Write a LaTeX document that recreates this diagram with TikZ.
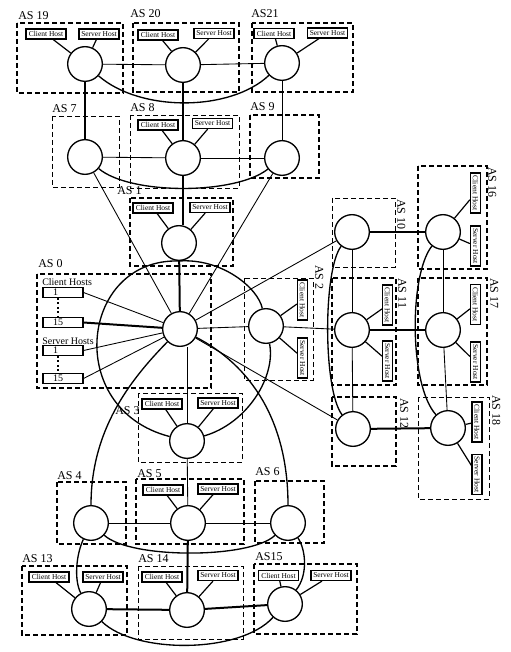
\documentclass[tikz,border=0pt]{standalone}
\usepackage{fontspec}
\setmainfont{Liberation Serif}
\usepackage{tikz}

\tikzset{
  asnode/.style={circle,draw,line width=1pt,fill=white,minimum size=26pt,inner sep=0pt},
  hostbox/.style={draw,line width=0.9pt,fill=white,inner sep=0.4pt,minimum width=30pt,minimum height=7.5pt,font=\fontsize{5.6}{6}\selectfont},
  numbox/.style={draw,line width=0.8pt,fill=white,inner sep=0pt,text width=30pt,align=left,minimum height=7pt,font=\fontsize{7.5}{8}\selectfont},
  aslabel/.style={inner sep=0pt,font=\fontsize{9}{10}\selectfont},
  grplabel/.style={inner sep=0pt,font=\fontsize{7.5}{8}\selectfont},
  thinbox/.style={dash pattern=on 3.5pt off 2.5pt,line width=0.7pt},
  thickbox/.style={dash pattern=on 3.8pt off 2.2pt,line width=1.3pt},
  link/.style={line width=0.65pt},
  hostlink/.style={line width=0.9pt},
  bow/.style={line width=1pt},
  trunk/.style={line width=1.5pt},
}

\begin{document}
\begin{tikzpicture}[x=0.75pt,y=0.75pt,yscale=-1,xscale=1]
\useasboundingbox (0,0) rectangle (510,652);

%Shape: AS boxes
\draw [thickbox] (17,23) rectangle (123,93);
\draw [thickbox] (133,23) rectangle (239,92);
\draw [thickbox] (252,23) rectangle (353,92);
\draw [thinbox] (52,116) rectangle (119,187);
\draw [thinbox] (130,115) rectangle (239,188);
\draw [thickbox] (250,115) rectangle (319,178);
\draw [thickbox] (130,198) rectangle (233,266);
\draw [thickbox] (37,274) rectangle (211,388);
\draw [thinbox] (244,278) rectangle (313,380);
\draw [thinbox] (332,198) rectangle (395,267);
\draw [thickbox] (332,278) rectangle (396,385);
\draw [thickbox] (332,397) rectangle (396,466);
\draw [thickbox] (418,166) rectangle (487,269);
\draw [thickbox] (418,278) rectangle (487,385);
\draw [thinbox] (418,397) rectangle (489,499);
\draw [thinbox] (138,393) rectangle (242,462);
\draw [thickbox] (57,482) rectangle (126,544);
\draw [thickbox] (136,479) rectangle (244,544);
\draw [thickbox] (255,481) rectangle (324,543);
\draw [thickbox] (22,566) rectangle (127,635);
\draw [thinbox] (138,566) rectangle (243,639);
\draw [thickbox] (254,564) rectangle (357,634);

%Shape: AS routers
\node [asnode] (as19) at (85,64) {};
\node [asnode] (as20) at (183,65) {};
\node [asnode] (as21) at (282,63) {};
\node [asnode] (as7) at (85,157) {};
\node [asnode] (as8) at (183,158) {};
\node [asnode] (as9) at (282,158) {};
\node [asnode] (as1) at (179,243) {};
\node [asnode] (as0) at (180,329) {};
\node [asnode] (as2) at (266,326) {};
\node [asnode] (as10) at (352,232) {};
\node [asnode] (as11) at (352,330) {};
\node [asnode] (as12) at (353,429) {};
\node [asnode] (as16) at (443,232) {};
\node [asnode] (as17) at (443,330) {};
\node [asnode] (as18) at (448,428) {};
\node [asnode] (as3) at (187,441) {};
\node [asnode] (as4) at (91,523) {};
\node [asnode] (as5) at (188,523) {};
\node [asnode] (as6) at (288,523) {};
\node [asnode] (as13) at (89,609) {};
\node [asnode] (as14) at (187,610) {};
\node [asnode] (as15) at (285,604) {};

% Text Node: hosts
\node [hostbox] (ch19) at (46,34) {Client Host};
\node [hostbox] (sh19) at (99,34) {Server Host};
\node [hostbox] (ch20) at (158,35) {Client Host};
\node [hostbox] (sh20) at (214,33.5) {Server Host};
\node [hostbox] (ch21) at (274,33.5) {Client Host};
\node [hostbox] (sh21) at (327.5,33) {Server Host};
\node [hostbox] (ch8) at (158,125) {Client Host};
\node [hostbox] (sh8) at (212.5,123.5) {Server Host};
\node [hostbox] (ch1) at (153,208) {Client Host};
\node [hostbox] (sh1) at (210,207.5) {Server Host};
\node [hostbox] (ch3) at (162,404) {Client Host};
\node [hostbox] (sh3) at (218,403) {Server Host};
\node [hostbox] (ch5) at (163,490) {Client Host};
\node [hostbox] (sh5) at (218,489) {Server Host};
\node [hostbox] (ch13) at (49,577) {Client Host};
\node [hostbox] (sh13) at (103,577) {Server Host};
\node [hostbox] (ch14) at (162,577) {Client Host};
\node [hostbox] (sh14) at (218,575.5) {Server Host};
\node [hostbox] (ch15) at (278.5,575.5) {Client Host};
\node [hostbox] (sh15) at (331,575.5) {Server Host};
\node [hostbox,rotate=-90] (ch2) at (302.5,300) {Client Host};
\node [hostbox,rotate=-90] (sh2) at (302.5,358) {Server Host};
\node [hostbox,rotate=-90] (ch11) at (387.5,305) {Client Host};
\node [hostbox,rotate=-90] (sh11) at (387.5,361) {Server Host};
\node [hostbox,rotate=-90] (ch16) at (475.5,193) {Client Host};
\node [hostbox,rotate=-90] (sh16) at (475.5,246) {Server Host};
\node [hostbox,rotate=-90] (ch17) at (475.5,304.5) {Client Host};
\node [hostbox,rotate=-90] (sh17) at (475.5,362) {Server Host};
\node [hostbox,rotate=-90] (ch18) at (477,422) {Client Host};
\node [hostbox,rotate=-90] (sh18) at (477,474.5) {Server Host};

% Text Node: AS 0 host groups
\node [grplabel,anchor=base west] (cgrp) at (42,285) {Client Hosts};
\node [numbox] (c1) at (63,292.5) {\hspace*{7.5pt}1};
\node [numbox] (c15) at (63,322.5) {\hspace*{7.5pt}15};
\node [grplabel,anchor=base west] (sgrp) at (42,344) {Server Hosts};
\node [numbox] (s1) at (63,350.5) {\hspace*{7.5pt}1};
\node [numbox] (s15) at (63,378.5) {\hspace*{7.5pt}15};
\draw [dotted,line width=1.4pt] ([xshift=-3.75pt]c1.south) -- ([xshift=-3.75pt]c15.north);
\draw [dotted,line width=1.4pt] ([xshift=-3.75pt]s1.south) -- ([xshift=-3.75pt]s15.north);

% Text Node: AS names
\node [aslabel,anchor=base west] (l19) at (18,20) {AS 19};
\node [aslabel,anchor=base west] (l20) at (130,18) {AS 20};
\node [aslabel,anchor=base west] (l21) at (251,18) {AS21};
\node [aslabel,anchor=base west] (l7) at (52,113) {AS 7};
\node [aslabel,anchor=base west] (l8) at (130,112) {AS 8};
\node [aslabel,anchor=base west] (l9) at (250,111) {AS 9};
\node [aslabel,anchor=base west] (l1) at (117,195) {AS 1};
\node [aslabel,anchor=base west] (l0) at (38,267) {AS 0};
\node [aslabel,anchor=base west] (l3) at (115,414) {AS 3};
\node [aslabel,anchor=base west] (l4) at (57,479) {AS 4};
\node [aslabel,anchor=base west] (l5) at (137,477) {AS 5};
\node [aslabel,anchor=base west] (l6) at (255,475) {AS 6};
\node [aslabel,anchor=base west] (l13) at (22,562) {AS 13};
\node [aslabel,anchor=base west] (l14) at (138,562) {AS 14};
\node [aslabel,anchor=base west] (l15) at (255,560) {AS15};
\node [aslabel,rotate=-90,anchor=south west] (l16) at (488,167) {AS 16};
\node [aslabel,rotate=-90,anchor=south west] (l10) at (397,199) {AS 10};
\node [aslabel,rotate=-90,anchor=south west] (l2) at (315,265) {AS 2};
\node [aslabel,rotate=-90,anchor=south west] (l11) at (398,278) {AS 11};
\node [aslabel,rotate=-90,anchor=south west] (l17) at (490,278) {AS 17};
\node [aslabel,rotate=-90,anchor=south west] (l12) at (400,398) {AS 12};
\node [aslabel,rotate=-90,anchor=south west] (l18) at (492,395) {AS 18};

%Straight Lines: host links
\foreach \n in {19,20,21,8,1,3,5,13,14,15,2,11,16,17,18} {
  \draw [hostlink] (ch\n) -- (as\n);
  \draw [hostlink] (sh\n) -- (as\n);
}
\draw [link] (c1.east) -- (as0);
\draw [trunk] (c15.east) -- (as0);
\draw [link] (s1.east) -- (as0);
\draw [link] (s15.east) -- (as0);

%Straight Lines: AS links
\draw [link] (as19) -- (as20);
\draw [link] (as20) -- (as21);
\draw [trunk] (as19) -- (as7);
\draw [hostlink] (as20) -- (as8);
\draw [link] (as21) -- (as9);
\draw [link] (as7) -- (as8);
\draw [link] (as8) -- (as9);
\draw [link] (as7) -- (as0);
\draw [link] (as9) -- (as0);
\draw [trunk] (as8.south) -- (as8.south |- as1.north);
\draw [trunk] (as1) -- (as0);
\draw [link] (as0) -- (as2);
\draw [link] (as0) -- (as10);
\draw [link] (as0) -- (as12);
\draw [link] (as3.north |- as0.south) -- (as3.north);
\draw [link] (as2) -- (as11);
\draw [link] (as10) -- (as11);
\draw [link] (as11) -- (as12);
\draw [trunk] (as10) -- (as16);
\draw [trunk] (as11) -- (as17);
\draw [trunk] (as12) -- (as18);
\draw [link] (as16) -- (as17);
\draw [link] (as17) -- (as18);
\draw [link] (as3) -- (as5);
\draw [link] (as4) -- (as5);
\draw [link] (as5) -- (as6);
\draw [trunk] (as5) -- (as14);
\draw [trunk] (as13) -- (as14);
\draw [trunk] (as14) -- (as15);

%Curve Lines
\draw [bow] (as19) .. controls (140,112) and (230,112) .. (as21);
\draw [bow] (as7) .. controls (130,195) and (235,195) .. (as9);
\draw [bow] (as1.south) .. controls (222,258) and (258,288) .. (as2);
\draw [bow] (as2) .. controls (276,376) and (248,423) .. (as3);
\draw [bow] (as3) .. controls (63,409) and (80,258) .. (as1.south);
\draw [bow] (as0) .. controls (130,380) and (91,430) .. (as4);
\draw [bow] (as0) .. controls (250,365) and (288,420) .. (as6);
\draw [bow] (as4) .. controls (130,559) and (250,559) .. (as6);
\draw [bow] (as13) .. controls (135,654) and (240,654) .. (as15);
\draw [bow] (as4) .. controls (76,555) and (74,580) .. (as13);
\draw [bow] (as6) .. controls (306,550) and (308,575) .. (as15);
\draw [bow] (as10) .. controls (323,270) and (323,390) .. (as12);
\draw [bow] (as16) .. controls (409,275) and (409,385) .. (as18);

\end{tikzpicture}
\end{document}
